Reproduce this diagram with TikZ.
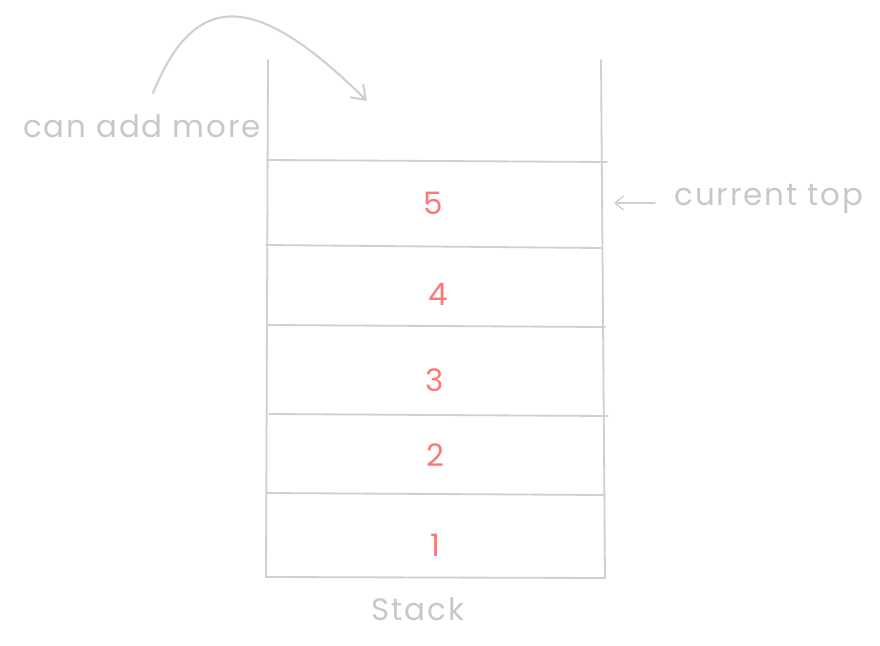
\documentclass[tikz,border=0pt]{standalone}
\usepackage{fontspec}
\setmainfont{Poppins}
\usetikzlibrary{positioning, arrows.meta}
\definecolor{linegray}{HTML}{D0D0D0}
\definecolor{txtgray}{HTML}{C8C8C8}
\definecolor{numred}{HTML}{FF7676}
\tikzstyle{wall}=[linegray,line width=1.3pt,line cap=round]
\tikzstyle{num}=[numred,inner sep=0pt,font=\fontsize{22}{22}\selectfont]
\tikzstyle{note}=[txtgray,inner sep=0pt,font=\fontsize{22}{22}\selectfont\addfontfeatures{LetterSpace=6}]
\tikzstyle{jmp}=[-{Straight Barb[length=9pt,width=13pt]},linegray,line width=1.5pt,line cap=round]
\tikzstyle{px}=[x=0.025cm,y=-0.025cm]

\begin{document}
\begin{tikzpicture}[px]
  \useasboundingbox (0,0) rectangle (880,645);
  % walls of the stack
  \draw[wall] (268,60) -- (266,577) -- (605,578);
  \draw[wall] (601,60) -- (605,578);
  \foreach \ya/\xa/\yb/\xb in {160/268/162/607, 245/266/248/601, 325/268/327/605,
                               414/269/416/608, 493/267/495/604}
    {\draw[wall] (\xa,\ya) -- (\xb,\yb);}
  % the items
  \foreach \i/\x/\y in {1/435/545, 2/435/455, 3/435/380, 4/438/294, 5/433/203}
    {\node[num] (n\i) at (\x,\y) {\i};}
  % labels
  \node[note] (more) at (142,126) {can add more};
  \node[note] (top) at (769,199) {current top};
  \node[note] (stk) at (418,609) {Stack};
  \coordinate (push) at (153,93);
  \coordinate (slot) at (367,101);
  \coordinate (tail) at (655,203);
  \coordinate (ptr) at (614,203);
  \draw[jmp] (push) .. controls (195,-10) and (255,-10) .. (slot);
  \draw[jmp,line width=1pt,-{Straight Barb[length=6pt,width=10pt]}] (tail) -- (ptr);
\end{tikzpicture}
\end{document}
